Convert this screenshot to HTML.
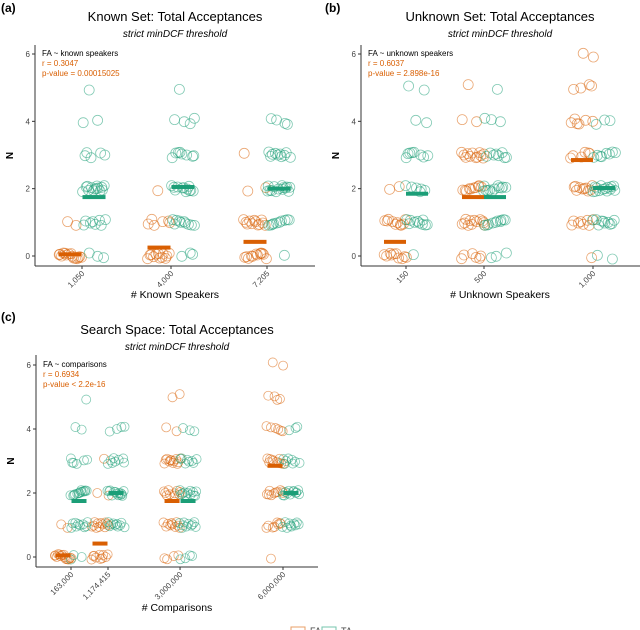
<!DOCTYPE html>
<html><head><meta charset="utf-8">
<style>
html,body{margin:0;padding:0;background:#fff;}
svg{display:block;font-family:"Liberation Sans",Arial,sans-serif;}
</style></head>
<body>
<svg id="chart" width="640" height="630" viewBox="0 0 640 630" xmlns="http://www.w3.org/2000/svg"></svg>
<script>
// ---------- Data ----------
// Counts of observations at N = 0..6 per category (FA / TA)
const catsA = ["1,050","4,000","7,205"];
const faCountsA = [[15,2,0,0,0,0,0],[12,6,1,0,0,0,0],[12,12,2,1,0,0,0]];
const taCountsA = [[3,8,14,5,2,1,0],[3,10,12,8,4,1,0],[1,10,14,10,4,0,0]];
const faMeanA = [0.05,0.25,0.42];
const taMeanA = [1.75,2.05,2.0];

const catsB = ["150","500","1,000"];
const faCountsB = [[10,10,2,0,0,0,0],[6,12,10,12,2,1,0],[1,8,10,6,6,4,2]];
const taCountsB = [[1,10,6,8,2,2,0],[3,10,12,8,3,1,0],[2,10,14,8,3,0,0]];
const faMeanB = [0.42,1.75,2.85];
const taMeanB = [1.85,1.75,2.02];

const catsC = ["163,000","1,174,415","3,000,000","6,000,000"];
const catValsC = [163000,1174415,3000000,6000000];
const faCountsC = [[15,2,0,0,0,0,0],[10,12,2,1,0,0,0],[4,10,10,12,2,2,0],[1,8,10,10,6,4,2]];
const taCountsC = [[3,10,14,6,2,1,0],[0,10,14,8,4,0,0],[4,10,12,8,3,0,0],[0,10,12,8,3,0,0]];
const faMeanC = [0.05,0.42,1.75,2.85];
const taMeanC = [1.75,2.0,1.75,2.0];

const yTicks = [0,2,4,6];

// deterministic jitter pattern (styling only)
const jx = [-0.9,0.3,-0.4,0.8,-0.1,0.6,-0.7,0.1,0.95,-0.3,0.45,-0.85,0.2,-0.55,0.7,-0.2,0.5,-0.65,0.05,0.85,-0.45,0.35,-0.95,0.65,-0.05,0.25,-0.75,0.55,-0.25,0.9,-0.6];
const jy = [0.04,-0.06,0.08,-0.02,0.06,-0.08,0.0,0.07,-0.04,0.03,-0.07,0.05,-0.01,0.09,-0.05,0.02,-0.09];

const FA="#d95f02", TA="#1b9e77";
const svg=document.getElementById('chart');
const NS="http://www.w3.org/2000/svg";
function mk(tag,attrs,parent){const e=document.createElementNS(NS,tag);for(const k in attrs)e.setAttribute(k,attrs[k]);(parent||svg).appendChild(e);return e;}
function txt(s,attrs,parent){const e=mk('text',attrs,parent);e.textContent=s;return e;}

function panel(cfg){
  const g=mk('g',{});
  
  
  const yS=v=>cfg.y0+(cfg.y6-cfg.y0)*v/6;
  const xS=i=>cfg.xPos(i);
  const l=txt(cfg.letter,{x:cfg.lx,y:cfg.ly,'font-size':12,'font-weight':'bold',fill:'#000'},g);
  
  const t=txt(cfg.title,{x:cfg.tcx,y:cfg.ty,'font-size':13,'text-anchor':'middle',fill:'#000'},g);
  
  const st=txt('strict minDCF threshold',{x:cfg.tcx,y:cfg.ty+16,'font-size':10,'font-style':'italic','text-anchor':'middle',fill:'#000'},g);
  
  const ya=mk('line',{x1:cfg.ax,y1:cfg.top,x2:cfg.ax,y2:cfg.bot,stroke:'#333','stroke-width':1},g);
  
  const xa=mk('line',{x1:cfg.ax,y1:cfg.bot,x2:cfg.right,y2:cfg.bot,stroke:'#333','stroke-width':1},g);
  
  yTicks.forEach(v=>{
    const tk=mk('line',{x1:cfg.ax-3,y1:yS(v),x2:cfg.ax,y2:yS(v),stroke:'#333'},g);
    
    const tl=txt(String(v),{x:cfg.ax-5,y:yS(v)+3,'font-size':8,'text-anchor':'end',fill:'#444'},g);
    
  });
  const yt=txt('N',{x:0,y:0,'font-size':10,'font-weight':'bold','text-anchor':'middle',fill:'#000',transform:`translate(${cfg.ax-22},${(cfg.top+cfg.bot)/2}) rotate(-90)`},g);
  
  cfg.cats.forEach((c,i)=>{
    const x=xS(i);
    const tk=mk('line',{x1:x,y1:cfg.bot,x2:x,y2:cfg.bot+3,stroke:'#333'},g);
    
    const tl=txt(c,{x:0,y:0,'font-size':8,'text-anchor':'end',fill:'#444',transform:`translate(${x+3},${cfg.bot+8}) rotate(-45)`},g);
    
  });
  const xt=txt(cfg.xlabel,{x:cfg.tcx,y:cfg.xly,'font-size':10.5,'text-anchor':'middle',fill:'#000'},g);
  
  const a1=txt(cfg.ann[0],{x:cfg.ax+7,y:cfg.y6+2,'font-size':8,fill:'#000'},g);
  
  const a2=txt(cfg.ann[1],{x:cfg.ax+7,y:cfg.y6+12,'font-size':8,fill:FA},g);
  
  const a3=txt(cfg.ann[2],{x:cfg.ax+7,y:cfg.y6+22,'font-size':8,fill:FA},g);
  
  let k=0;
  [[cfg.fa,FA,-1,'fa'],[cfg.ta,TA,1,'ta']].forEach(([counts,col,side,nm])=>{
    counts.forEach((row,i)=>{
      const cx=xS(i)+side*cfg.off;
      row.forEach((n,v)=>{
        for(let j=0;j<n;j++){
          const p=mk('circle',{cx:cx+jx[k%jx.length]*cfg.jit,cy:yS(v+jy[k%jy.length]),r:cfg.r,fill:'none',stroke:col,'stroke-opacity':0.55,'stroke-width':0.8},g);
          
          
          k++;
        }
      });
    });
  });
  [[cfg.faM,FA,-1,'fa-mean-bar'],[cfg.taM,TA,1,'ta-mean-bar']].forEach(([ms,col,side,nm])=>{
    ms.forEach((m,i)=>{
      const x=xS(i)+side*cfg.off;
      const b=mk('rect',{x:x-cfg.bw/2,y:yS(m)-2,width:cfg.bw,height:4,fill:col},g);
      
      
    });
  });
}

const posA=[82,171,267];
panel({name:'panel-a',letter:'(a)',lx:1,ly:12,title:'Known Set: Total Acceptances',tcx:175,ty:21,
  ax:35,right:315,top:45,bot:266,y0:256,y6:54,xPos:i=>posA[i],cats:catsA,
  xlabel:'# Known Speakers',xly:298,ann:['FA ~ known speakers','r = 0.3047','p-value = 0.00015025'],
  fa:faCountsA,ta:taCountsA,faM:faMeanA,taM:taMeanA,off:12,jit:12,r:5,bw:23});

const posB=[406,484,593];
panel({name:'panel-b',letter:'(b)',lx:325,ly:12,title:'Unknown Set: Total Acceptances',tcx:500,ty:21,
  ax:361,right:640,top:45,bot:266,y0:256,y6:54,xPos:i=>posB[i],cats:catsB,
  xlabel:'# Unknown Speakers',xly:298,ann:['FA ~ unknown speakers','r = 0.6037','p-value = 2.898e-16'],
  fa:faCountsB,ta:taCountsB,faM:faMeanB,taM:taMeanB,off:11,jit:12,r:5,bw:22});

const cMin=163000,cMax=6000000,pxMin=71,pxMax=283;
panel({name:'panel-c',letter:'(c)',lx:1,ly:321,title:'Search Space: Total Acceptances',tcx:177,ty:334,
  ax:36,right:318,top:355,bot:567,y0:557,y6:365,
  xPos:i=>{const v=catValsC[i];return i===1?108:pxMin+(pxMax-pxMin)*(v-cMin)/(cMax-cMin)+(i===2?6:0);},
  cats:catsC,xlabel:'# Comparisons',xly:611,ann:['FA ~ comparisons','r = 0.6934','p-value < 2.2e-16'],
  fa:faCountsC,ta:taCountsC,faM:faMeanC,taM:taMeanC,off:8,jit:9,r:4.5,bw:15});

const lg=mk('g',{});


const s1=mk('rect',{x:291,y:627,width:14,height:4,fill:'none',stroke:FA,'stroke-opacity':0.6},lg);

const t1=txt('FA',{x:310,y:634,'font-size':9,fill:'#444'},lg);

const s2=mk('rect',{x:322,y:627,width:14,height:4,fill:'none',stroke:TA,'stroke-opacity':0.6},lg);

const t2=txt('TA',{x:341,y:634,'font-size':9,fill:'#444'},lg);

</script>
</body></html>
